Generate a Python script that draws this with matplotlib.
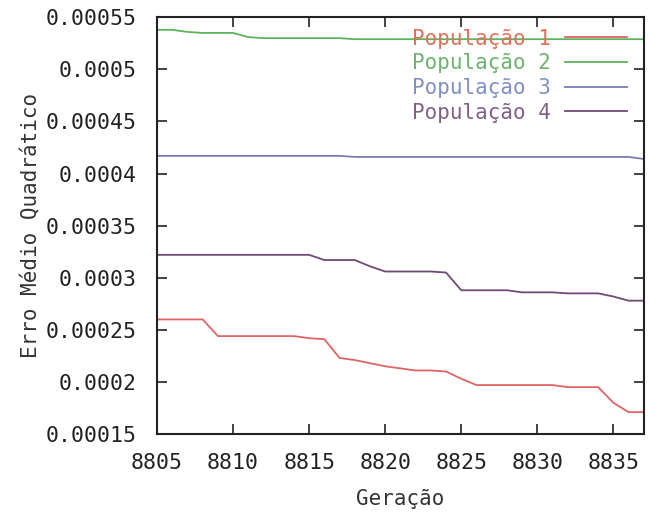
import matplotlib
matplotlib.use("Agg")
import matplotlib.pyplot as plt
import numpy as np

# geracoes 8805..8837
geracao = list(range(8805, 8838))

pop1 = [0.000260, 0.000260, 0.000260, 0.000260, 0.000244, 0.000244, 0.000244,
        0.000244, 0.000244, 0.000244, 0.000242, 0.000241, 0.000223, 0.000221,
        0.000218, 0.000215, 0.000213, 0.000211, 0.000211, 0.000210, 0.000203,
        0.000197, 0.000197, 0.000197, 0.000197, 0.000197, 0.000197, 0.000195,
        0.000195, 0.000195, 0.000180, 0.000171, 0.000171]
pop2 = [0.000538, 0.000538, 0.000536, 0.000535, 0.000535, 0.000535, 0.000531,
        0.000530, 0.000530, 0.000530, 0.000530, 0.000530, 0.000530, 0.000529,
        0.000529, 0.000529, 0.000529, 0.000529, 0.000529, 0.000529, 0.000529,
        0.000529, 0.000529, 0.000529, 0.000529, 0.000529, 0.000529, 0.000529,
        0.000529, 0.000529, 0.000529, 0.000529, 0.000529]
pop3 = [0.000417, 0.000417, 0.000417, 0.000417, 0.000417, 0.000417, 0.000417,
        0.000417, 0.000417, 0.000417, 0.000417, 0.000417, 0.000417, 0.000416,
        0.000416, 0.000416, 0.000416, 0.000416, 0.000416, 0.000416, 0.000416,
        0.000416, 0.000416, 0.000416, 0.000416, 0.000416, 0.000416, 0.000416,
        0.000416, 0.000416, 0.000416, 0.000416, 0.000414]
pop4 = [0.000322, 0.000322, 0.000322, 0.000322, 0.000322, 0.000322, 0.000322,
        0.000322, 0.000322, 0.000322, 0.000322, 0.000317, 0.000317, 0.000317,
        0.000311, 0.000306, 0.000306, 0.000306, 0.000306, 0.000305, 0.000288,
        0.000288, 0.000288, 0.000288, 0.000286, 0.000286, 0.000286, 0.000285,
        0.000285, 0.000285, 0.000282, 0.000278, 0.000278]

nomes = ["População 1", "População 2", "População 3", "População 4"]
cores_linha = ["#e06464", "#5cb45c", "#7c7cb4", "#6e4a74"]
cores_texto = ["#e0705a", "#6cb46c", "#8090c4", "#80608a"]

plt.rcParams['font.family'] = ['DejaVu Sans Mono']
fig = plt.figure(figsize=(6.49, 5.17), dpi=100)
ax = fig.add_axes([0.242, 0.1605, 0.75, 0.806])

for serie, nome, cor in zip([pop1, pop2, pop3, pop4], nomes, cores_linha):
    ax.plot(geracao, serie, color=cor, linewidth=1.3, label=nome)

ax.set_xlim(8805, 8837)
ax.set_ylim(0.00015, 0.00055)
ax.set_xticks(range(8805, 8836, 5))
yt = np.arange(0.00015, 0.000551, 0.00005)
ax.set_yticks(yt)
ax.set_yticklabels(["%g" % round(v, 6) for v in yt])

ax.tick_params(direction='in', length=7, width=1.2, top=True, right=True,
               labelsize=15.5, colors='#222222')
ax.tick_params(axis='y', pad=15)
ax.tick_params(axis='x', pad=14)
for s in ax.spines.values():
    s.set_linewidth(1.5)
    s.set_color('#222222')

ax.set_xlabel("Geração", fontsize=15, color='#333333', labelpad=11)
ax.set_ylabel("Erro Médio Quadrático", fontsize=15, color='#333333', labelpad=3)

leg = ax.legend(loc='upper right', bbox_to_anchor=(0.99, 1.0), frameon=False,
                markerfirst=False, fontsize=15, handlelength=3.0,
                handletextpad=0.7, labelspacing=0.22, borderaxespad=0.15)
for t, c in zip(leg.get_texts(), cores_texto):
    t.set_color(c)

fig.savefig("out.png", dpi=100)
